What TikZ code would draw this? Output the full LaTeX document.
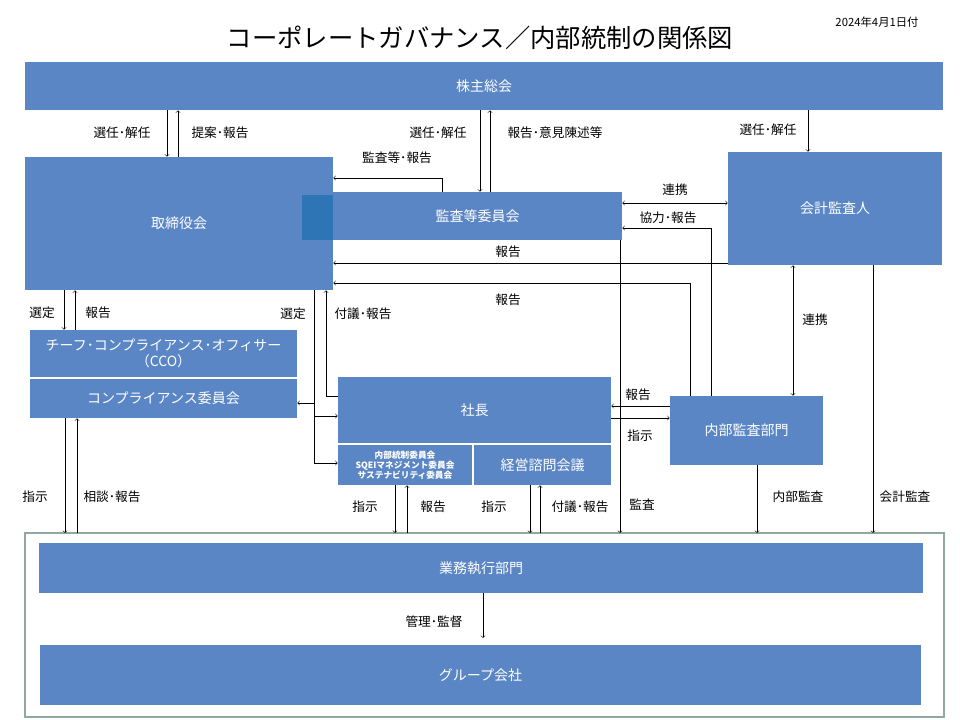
\documentclass[tikz,border=0pt]{standalone}
\usepackage{fontspec}
\setmainfont{Noto Sans CJK JP}
\usetikzlibrary{arrows,positioning}
\definecolor{boxblue}{RGB}{91,134,197}
\definecolor{darkblue}{RGB}{46,117,182}
\definecolor{framegreen}{RGB}{143,168,160}
\tikzstyle{box}=[
	rectangle,
	fill=boxblue,
	text=white,
	inner sep=0pt,
	align=center,
	font=\fontsize{10.5}{12}\selectfont
]
\tikzstyle{lbl}=[
	inner sep=1pt,
	font=\fontsize{9.5}{11}\selectfont
]
\tikzstyle{flow}=[
	->,
	>=to,
	thin
]
\begin{document}
\begin{tikzpicture}[x=0.75pt,y=-0.75pt]
\useasboundingbox (0,0) rectangle (960,720);
% title
\node (title) at (480,38) {\fontsize{19}{22}\selectfont コーポレートガバナンス／内部統制の関係図};
\node [lbl] (date) at (877,22) {\fontsize{8.5}{10}\selectfont 2024年4月1日付};
% boxes
\node [box, minimum width=688.5pt, minimum height=36pt] (Shareholders) at (484,86) {株主総会};
\node [box, minimum width=231pt, minimum height=99.75pt] (Board) at (179,223.5) {取締役会};
\node [box, minimum width=216.75pt, minimum height=36pt] (AuditCommittee) at (477.5,216) {監査等委員会};
\node [rectangle, fill=darkblue, minimum width=23.25pt, minimum height=33.75pt] (Overlap) at (317.5,217.5) {};
\node [box, minimum width=160.5pt, minimum height=84.75pt] (Auditor) at (835,208.5) {会計監査人};
\node [box, minimum width=200.25pt, minimum height=35.25pt] (CCO) at (163.5,353.5) {チーフ･コンプライアンス･オフィサー\\（CCO）};
\node [box, minimum width=200.25pt, minimum height=29.25pt] (Compliance) at (163.5,398.5) {コンプライアンス委員会};
\node [box, minimum width=204.75pt, minimum height=49.5pt] (President) at (474.5,410) {社長};
\node [box, minimum width=100.5pt, minimum height=30pt, font=\bfseries\fontsize{6.5}{7.5}\selectfont] (Committees) at (405,465) {内部統制委員会\\SQEIマネジメント委員会\\サステナビリティ委員会};
\node [box, minimum width=102.75pt, minimum height=30pt] (Advisory) at (542.5,465) {経営諮問会議};
\node [box, minimum width=114.75pt, minimum height=51.75pt] (InternalAudit) at (746.5,430.5) {内部監査部門};
\draw [framegreen, line width=1.5pt] (25,533) rectangle (944,717);
\node [box, minimum width=663pt, minimum height=37.5pt] (Execution) at (481,568) {業務執行部門};
\node [box, minimum width=660.75pt, minimum height=45pt] (Group) at (480.5,675) {グループ会社};
% shareholders
\draw [flow] (167,0 |- Shareholders.south) -- (167,0 |- Board.north);
\draw [flow] (178,0 |- Board.north) -- (178,0 |- Shareholders.south);
\node [lbl] at (122,133) {選任･解任};
\node [lbl] at (220,133) {提案･報告};
\draw [flow] (480,0 |- Shareholders.south) -- (480,0 |- AuditCommittee.north);
\draw [flow] (490,0 |- AuditCommittee.north) -- (490,0 |- Shareholders.south);
\node [lbl] at (438,133) {選任･解任};
\node [lbl] at (555,133) {報告･意見陳述等};
\draw [flow] (808,0 |- Shareholders.south) -- (808,0 |- Auditor.north);
\node [lbl] at (768,130) {選任･解任};
% audit committee, auditor, internal audit
\draw [flow] (442,0 |- AuditCommittee.north) -- (442,178) -- (Board.east |- 0,178);
\node [lbl] at (397,158) {監査等･報告};
\draw [<->, >=to] (AuditCommittee.east |- 0,203) -- (Auditor.west |- 0,203);
\node [lbl] at (675,190) {連携};
\draw [flow] (711,0 |- InternalAudit.north) -- (711,228) -- (AuditCommittee.east |- 0,228);
\node [lbl] at (668,218) {協力･報告};
\draw [flow] (Auditor.west |- 0,263) -- (Board.east |- 0,263);
\node [lbl] at (508,252) {報告};
\draw [flow] (690,0 |- InternalAudit.north) -- (690,283) -- (Board.east |- 0,283);
\node [lbl] at (508,300) {報告};
\draw [flow] (620,0 |- AuditCommittee.south) -- (620,533);
\node [lbl] at (642,505) {監査};
\draw [<->, >=to] (793,0 |- Auditor.south) -- (793,0 |- InternalAudit.north);
\node [lbl] at (815,320) {連携};
\draw [flow] (873,0 |- Auditor.south) -- (873,533);
\node [lbl] at (905,497) {会計監査};
\draw [flow] (757,0 |- InternalAudit.south) -- (757,533);
\node [lbl] at (798,497) {内部監査};
\draw [flow] (InternalAudit.west |- 0,406) -- (President.east |- 0,406);
\node [lbl] at (638,395) {報告};
\draw [flow] (President.east |- 0,418) -- (InternalAudit.west |- 0,418);
\node [lbl] at (640,436) {指示};
% board to cco and president
\draw [flow] (64,0 |- Board.south) -- (64,0 |- CCO.north);
\draw [flow] (75,0 |- CCO.north) -- (75,0 |- Board.south);
\node [lbl] at (42,313) {選定};
\node [lbl] at (98,313) {報告};
\draw (314,0 |- Board.south) -- (314,463);
\draw [flow] (314,403) -- (Compliance.east |- 0,403);
\draw [flow] (314,416) -- (President.west |- 0,416);
\draw [flow] (314,463) -- (Committees.west |- 0,463);
\node [lbl] at (293,314) {選定};
\draw [flow] (President.west |- 0,396) -- (326,396) -- (326,0 |- Board.south);
\node [lbl] at (363,314) {付議･報告};
% to execution
\draw [flow] (65,0 |- Compliance.south) -- (65,533);
\draw [flow] (77,533) -- (77,0 |- Compliance.south);
\node [lbl] at (35,497) {指示};
\node [lbl] at (112,497) {相談･報告};
\draw [flow] (395,0 |- Committees.south) -- (395,533);
\draw [flow] (407,533) -- (407,0 |- Committees.south);
\node [lbl] at (365,507) {指示};
\node [lbl] at (433,507) {報告};
\draw [flow] (530,0 |- Advisory.south) -- (530,533);
\draw [flow] (540,533) -- (540,0 |- Advisory.south);
\node [lbl] at (494,507) {指示};
\node [lbl] at (580,507) {付議･報告};
\draw [flow] (483,0 |- Execution.south) -- (483,638);
\node [lbl] at (434,622) {管理･監督};
\end{tikzpicture}
\end{document}
